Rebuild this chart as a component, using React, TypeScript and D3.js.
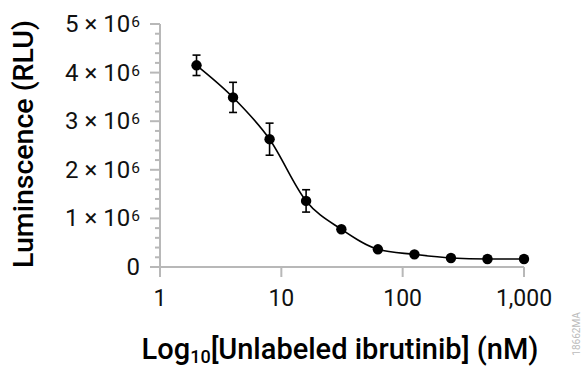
import React from 'react';
import * as d3 from 'd3';

// concentrations (nM) and mean luminescence (RLU)
const conc = [2, 4, 8, 16, 31.25, 62.5, 125, 250, 500, 1000];
const rlu = [4.15e6, 3.49e6, 2.63e6, 1.36e6, 0.776e6, 0.364e6, 0.26e6, 0.185e6, 0.165e6, 0.165e6];
const sd = [0.21e6, 0.31e6, 0.33e6, 0.23e6, 0.03e6, 0.02e6, 0.02e6, 0.01e6, 0.01e6, 0.01e6];

const xTicks = [1, 10, 100, 1000];
const yTicks = [0, 1e6, 2e6, 3e6, 4e6, 5e6];

const W = 588;
const H = 367;
const font = 'Roboto, "Noto Sans", sans-serif';
const axisColor = '#b8b8b8';

const App = () => {
  const x = d3.scaleLog().domain([1, 1000]).range([160, 524]);
  const y = d3.scaleLinear().domain([0, 5e6]).range([267, 24]);

  const minor = d3.range(0, 5e6 + 1, 2e5).filter(v => v % 1e6 !== 0);
  const pts = conc.map((c, i) => [x(c), y(rlu[i])] as [number, number]);
  const line = d3.line().curve(d3.curveMonotoneX);

  return (
    <svg width={W} height={H} style={{ position: 'absolute', left: 0, top: 0, background: '#fff' }}
      fontFamily={font}>
      {/* y axis */}
      <line x1={160} x2={160} y1={y(5e6)} y2={277} stroke={axisColor} strokeWidth={2} />
      {minor.map(v => (
        <line key={'m' + v} x1={155} x2={160} y1={y(v)} y2={y(v)} stroke={axisColor} strokeWidth={2} />
      ))}
      {yTicks.map(v => (
        <g key={'y' + v}>
          <line x1={150} x2={160} y1={y(v)} y2={y(v)} stroke={axisColor} strokeWidth={2} />
          <text x={140} y={y(v) + 8} textAnchor="end" fontSize={24} fill="#111">
            {v === 0 ? '0' : (
              <>
                {`${v / 1e6} × 10`}
                <tspan fontSize={15.5} dx={1} dy={-5}>6</tspan>
              </>
            )}
          </text>
        </g>
      ))}

      {/* x axis */}
      <line x1={160} x2={x(1000)} y1={267} y2={267} stroke={axisColor} strokeWidth={2} />
      {xTicks.map(v => (
        <g key={'x' + v}>
          <line x1={x(v)} x2={x(v)} y1={267} y2={277} stroke={axisColor} strokeWidth={2} />
          <text x={x(v)} y={306} textAnchor="middle" fontSize={23} fill="#111">
            {d3.format(',')(v)}
          </text>
        </g>
      ))}

      {/* fitted curve */}
      <path d={line(pts) ?? ''} fill="none" stroke="#000" strokeWidth={1.6} />

      {/* error bars */}
      {conc.map((c, i) => (
        <g key={'e' + i} stroke="#000" strokeWidth={1.6}>
          <line x1={x(c)} x2={x(c)} y1={y(rlu[i] + sd[i])} y2={y(rlu[i] - sd[i])} />
          <line x1={x(c) - 4} x2={x(c) + 4} y1={y(rlu[i] + sd[i])} y2={y(rlu[i] + sd[i])} />
          <line x1={x(c) - 4} x2={x(c) + 4} y1={y(rlu[i] - sd[i])} y2={y(rlu[i] - sd[i])} />
        </g>
      ))}

      {/* points */}
      {conc.map((c, i) => (
        <circle key={'p' + i} cx={x(c)} cy={y(rlu[i])} r={5.2} fill="#000" />
      ))}

      {/* axis titles */}
      <text transform="translate(33,144) rotate(-90)" textAnchor="middle" fontSize={28.5} fontWeight={500} fill="#000">
        Luminscence (RLU)
      </text>
      <text x={340} y={359} textAnchor="middle" fontSize={29} fontWeight={500} fill="#000">
        Log<tspan fontSize={18} dy={4}>10</tspan><tspan dy={-4}>[Unlabeled ibrutinib] (nM)</tspan>
      </text>

      <text transform="translate(580,334) rotate(-90)" textAnchor="middle" fontSize={10} fill="#bbb">
        18662MA
      </text>
    </svg>
  );
};

export default App;
